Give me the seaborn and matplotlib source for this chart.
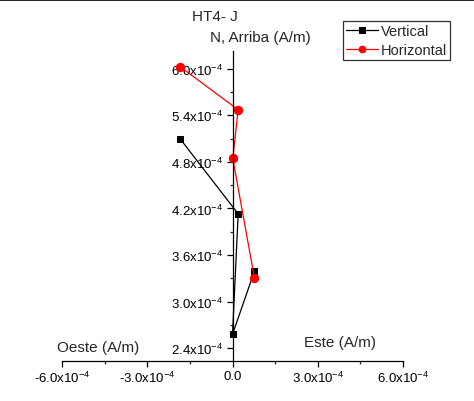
import numpy as np
import pandas as pd
import matplotlib
matplotlib.use("Agg")
import matplotlib.pyplot as plt
import matplotlib.ticker as mticker
from matplotlib.lines import Line2D
import seaborn as sns

# data (A/m)
este_vertical = [-1.83e-4, 0.20e-4, 0.00e-4, 0.77e-4]
arriba_vertical = [5.09e-4, 4.13e-4, 2.58e-4, 3.39e-4]
este_horizontal = [-1.83e-4, 0.20e-4, 0.01e-4, 0.77e-4]
norte_horizontal = [6.02e-4, 5.47e-4, 4.845e-4, 3.31e-4]

df_v = pd.DataFrame({"x": este_vertical, "y": arriba_vertical})
df_h = pd.DataFrame({"x": este_horizontal, "y": norte_horizontal})

sns.set_style("ticks")
plt.rcParams["font.family"] = ["Liberation Sans", "DejaVu Sans"]
plt.rcParams["mathtext.fontset"] = "custom"
plt.rcParams["mathtext.rm"] = "Liberation Sans"
plt.rcParams["mathtext.it"] = "Liberation Sans:italic"
plt.rcParams["mathtext.default"] = "regular"

W, H = 474, 402
fig = plt.figure(figsize=(W / 100, H / 100), dpi=100)
ax = fig.add_axes([62 / W, (H - 362) / H, (403 - 62) / W, (362 - 52) / H])
ax.patch.set_alpha(0)

sns.lineplot(data=df_v, x="x", y="y", sort=False, ax=ax, color="black", lw=0.9,
             marker="s", markersize=5, markeredgecolor="black", label="Vertical")
sns.lineplot(data=df_h, x="x", y="y", sort=False, ax=ax, color="red", lw=0.9,
             marker="o", markersize=6, markeredgecolor="red", label="Horizontal")

ax.set_xlim(-6e-4, 6e-4)
ax.set_ylim(2.237e-4, 6.226e-4)
ax.set_xlabel("")
ax.set_ylabel("")

# spines: y axis through x=0, x axis at bottom
ax.spines["left"].set_position(("data", 0))
ax.spines["top"].set_visible(False)
ax.spines["right"].set_visible(False)
for s in ["left", "bottom"]:
    ax.spines[s].set_linewidth(0.9)
    ax.spines[s].set_color("black")


def fmt(v, pos):
    m = v * 1e4
    if abs(m) < 1e-9:
        return "0.0"
    return f"{m:.1f}x10$^{{-4}}$"


ax.xaxis.set_major_locator(mticker.FixedLocator([-6e-4, -3e-4, 0, 3e-4, 6e-4]))
ax.xaxis.set_minor_locator(mticker.FixedLocator([-4.5e-4, -1.5e-4, 1.5e-4, 4.5e-4]))
ax.yaxis.set_major_locator(mticker.FixedLocator(np.arange(2.4, 6.01, 0.6) * 1e-4))
ax.yaxis.set_minor_locator(mticker.FixedLocator(np.arange(2.7, 6.0, 0.6) * 1e-4))
ax.xaxis.set_major_formatter(mticker.FuncFormatter(fmt))
ax.yaxis.set_major_formatter(mticker.FuncFormatter(fmt))
ax.tick_params(which="major", direction="out", length=4.5, width=0.9, labelsize=9.5, colors="black", pad=2)
ax.tick_params(which="minor", direction="out", length=2.5, width=0.9)

leg = ax.legend(loc="upper left", bbox_to_anchor=(343 / W, 1 - 22 / H), bbox_transform=fig.transFigure,
                frameon=True, fancybox=False, fontsize=10.5, handlelength=2.2, handletextpad=0.2,
                labelspacing=0.35, borderpad=0.2, borderaxespad=0, markerscale=0.8)
leg.get_frame().set_edgecolor("black")
leg.get_frame().set_linewidth(0.9)

fig.text(215 / W, 1 - 17 / H, "HT4- J", ha="center", va="center", fontsize=11)
fig.text(260 / W, 1 - 38 / H, "N, Arriba (A/m)", ha="center", va="center", fontsize=11)
fig.text(98 / W, 1 - 348 / H, "Oeste (A/m)", ha="center", va="center", fontsize=11)
fig.text(340 / W, 1 - 343 / H, "Este (A/m)", ha="center", va="center", fontsize=11)

fig.add_artist(Line2D([0, 1], [1 - 0.8 / H, 1 - 0.8 / H], color="black", lw=1.2, transform=fig.transFigure))

fig.savefig("out.png", dpi=100)
